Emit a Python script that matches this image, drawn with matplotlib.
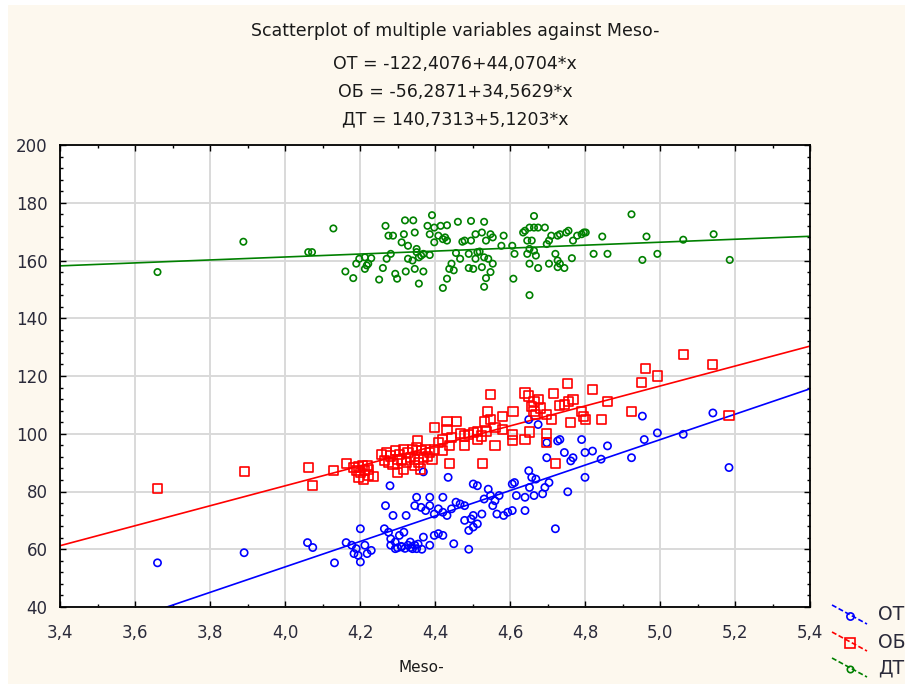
import matplotlib
matplotlib.use("Agg")
import numpy as np
import matplotlib.pyplot as plt
from matplotlib.lines import Line2D
from matplotlib.patches import Rectangle
from matplotlib.ticker import MultipleLocator, FuncFormatter

# --- data ----------------------------------------------------------------
title = "Scatterplot of multiple variables against Meso-"
x_label = "Meso-"
series_names = ["ОТ", "ОБ", "ДТ"]
intercepts = [-122.4076, -56.2871, 140.7313]
slopes = [44.0704, 34.5629, 5.1203]

ot_x = [3.660, 3.891, 4.060, 4.074, 4.132, 4.163, 4.201, 4.178, 4.190, 4.195,
        4.201, 4.213, 4.219, 4.230, 4.184, 4.268, 4.288, 4.323, 4.280, 4.351,
        4.386, 4.421, 4.346, 4.363, 4.375, 4.386, 4.398, 4.409, 4.421, 4.432,
        4.444, 4.456, 4.467, 4.479, 4.265, 4.276, 4.282, 4.294, 4.305, 4.317,
        4.328, 4.340, 4.351, 4.334, 4.346, 4.282, 4.294, 4.311, 4.369, 4.386,
        4.398, 4.409, 4.421, 4.450, 4.490, 4.490, 4.502, 4.479, 4.496, 4.502,
        4.513, 4.525, 4.369, 4.435, 4.502, 4.513, 4.542, 4.548, 4.531, 4.560,
        4.571, 4.554, 4.565, 4.583, 4.594, 4.606, 4.617, 4.606, 4.612, 4.640,
        4.640, 4.652, 4.664, 4.687, 4.693, 4.704, 4.658, 4.650, 4.669, 4.721,
        4.754, 4.800, 4.675, 4.650, 4.698, 4.698, 4.727, 4.733, 4.745, 4.762,
        4.768, 4.791, 4.800, 4.820, 4.843, 4.860, 4.924, 4.953, 4.958, 4.993,
        5.062, 5.141, 5.184, 4.300, 4.310, 4.320, 4.335, 4.355, 4.365]
ot_y = [55.3, 58.8, 62.3, 60.6, 55.3, 62.3, 67.1, 61.4, 60.2, 57.9,
        55.6, 61.4, 58.5, 59.6, 58.5, 75.1, 71.7, 71.7, 82.0, 78.0,
        78.0, 78.0, 75.1, 74.5, 73.4, 75.1, 72.2, 74.0, 72.8, 71.7,
        74.0, 76.3, 75.7, 75.1, 67.1, 65.9, 63.6, 62.5, 64.8, 65.9,
        61.4, 60.2, 60.2, 62.5, 61.4, 61.4, 60.2, 60.8, 64.2, 61.4,
        64.8, 65.4, 64.8, 61.9, 60.0, 66.5, 67.7, 70.0, 70.5, 71.7,
        68.8, 72.2, 86.8, 84.9, 82.6, 82.0, 80.8, 78.6, 77.4, 76.8,
        78.6, 75.1, 72.2, 71.7, 72.8, 73.4, 78.6, 82.6, 83.1, 78.0,
        73.4, 81.4, 78.6, 79.2, 81.4, 83.1, 84.9, 87.2, 84.3, 67.1,
        79.9, 84.9, 103.2, 104.9, 96.9, 91.7, 97.5, 98.0, 93.5, 90.6,
        91.7, 98.0, 93.5, 94.0, 91.2, 95.8, 91.7, 106.1, 98.0, 100.3,
        99.8, 107.2, 88.3, 60.5, 61.0, 60.3, 60.6, 61.8, 60.0]

ob_x = [3.660, 3.892, 4.062, 4.074, 4.129, 4.163, 4.184, 4.195, 4.207, 4.219,
        4.190, 4.201, 4.213, 4.222, 4.195, 4.210, 4.222, 4.237, 4.257, 4.271,
        4.282, 4.294, 4.305, 4.317, 4.328, 4.340, 4.351, 4.363, 4.375, 4.386,
        4.398, 4.265, 4.276, 4.288, 4.299, 4.311, 4.323, 4.334, 4.346, 4.357,
        4.369, 4.380, 4.392, 4.317, 4.299, 4.346, 4.361, 4.354, 4.398, 4.432,
        4.458, 4.432, 4.421, 4.409, 4.438, 4.444, 4.467, 4.479, 4.490, 4.502,
        4.513, 4.525, 4.536, 4.513, 4.479, 4.421, 4.438, 4.539, 4.548, 4.580,
        4.608, 4.531, 4.548, 4.560, 4.580, 4.606, 4.606, 4.640, 4.560, 4.527,
        4.652, 4.698, 4.698, 4.721, 4.640, 4.650, 4.664, 4.675, 4.658, 4.664,
        4.681, 4.669, 4.698, 4.710, 4.716, 4.733, 4.745, 4.756, 4.768, 4.754,
        4.791, 4.797, 4.802, 4.762, 4.820, 4.843, 4.860, 4.924, 4.950, 4.962,
        4.993, 5.062, 5.141, 5.184]
ob_y = [80.9, 86.9, 88.3, 82.1, 87.4, 89.7, 88.3, 88.6, 89.1, 88.9,
        87.2, 86.6, 87.2, 87.5, 85.0, 84.3, 85.5, 85.2, 92.9, 93.5,
        92.3, 94.1, 92.9, 94.6, 93.5, 94.6, 95.2, 94.1, 94.6, 93.5,
        94.6, 90.6, 90.1, 89.5, 91.2, 90.6, 90.1, 91.8, 91.0, 90.1,
        91.8, 92.1, 91.2, 87.8, 86.6, 88.9, 87.8, 97.5, 102.1, 104.3,
        104.3, 101.5, 98.1, 96.9, 96.0, 98.6, 100.1, 99.2, 99.8, 100.3,
        100.9, 99.2, 100.9, 98.1, 95.8, 94.1, 89.7, 107.8, 113.5, 106.1,
        107.8, 104.3, 104.9, 102.1, 101.5, 99.8, 97.8, 98.1, 95.8, 89.7,
        100.6, 100.1, 97.1, 89.7, 114.1, 113.1, 111.2, 111.8, 109.5, 107.8,
        108.9, 106.6, 106.6, 104.9, 113.8, 109.7, 110.1, 111.2, 111.8, 117.5,
        107.8, 106.1, 104.9, 104.0, 115.2, 104.9, 111.2, 107.8, 117.7, 122.6,
        120.0, 127.5, 124.1, 106.4]

dt_x = [3.660, 3.889, 4.062, 4.072, 4.129, 4.161, 4.182, 4.190, 4.198, 4.213,
        4.222, 4.213, 4.230, 4.218, 4.251, 4.268, 4.276, 4.288, 4.317, 4.282,
        4.271, 4.261, 4.294, 4.299, 4.320, 4.342, 4.311, 4.328, 4.346, 4.351,
        4.357, 4.328, 4.340, 4.351, 4.363, 4.369, 4.386, 4.392, 4.380, 4.398,
        4.415, 4.432, 4.386, 4.409, 4.421, 4.427, 4.432, 4.398, 4.322, 4.346,
        4.357, 4.369, 4.421, 4.432, 4.438, 4.444, 4.450, 4.467, 4.473, 4.461,
        4.496, 4.531, 4.479, 4.496, 4.508, 4.525, 4.536, 4.548, 4.554, 4.583,
        4.456, 4.490, 4.513, 4.519, 4.531, 4.542, 4.508, 4.502, 4.490, 4.525,
        4.554, 4.548, 4.536, 4.531, 4.577, 4.606, 4.612, 4.609, 4.635, 4.640,
        4.652, 4.664, 4.693, 4.675, 4.664, 4.646, 4.658, 4.652, 4.664, 4.646,
        4.669, 4.652, 4.675, 4.652, 4.698, 4.704, 4.710, 4.727, 4.733, 4.750,
        4.756, 4.768, 4.779, 4.791, 4.797, 4.802, 4.704, 4.721, 4.727, 4.733,
        4.745, 4.765, 4.727, 4.823, 4.846, 4.860, 4.924, 4.953, 4.964, 4.993,
        5.062, 5.143, 5.186]
dt_y = [156.0, 166.5, 162.9, 162.9, 171.1, 156.2, 153.9, 158.9, 160.6, 161.1,
        158.9, 157.1, 160.8, 158.3, 153.4, 172.0, 168.6, 168.6, 169.1, 162.3,
        160.6, 157.4, 155.4, 153.7, 173.9, 173.9, 166.3, 165.1, 169.7, 164.0,
        161.1, 160.6, 160.0, 162.9, 161.7, 162.3, 161.9, 175.7, 172.0, 171.4,
        172.0, 172.2, 169.1, 168.6, 167.4, 168.0, 166.9, 166.3, 156.2, 157.1,
        152.0, 156.2, 150.5, 153.7, 157.1, 158.9, 156.6, 160.6, 166.5, 173.4,
        173.7, 173.4, 166.9, 166.9, 169.1, 169.7, 166.9, 169.1, 168.0, 168.6,
        162.6, 162.3, 162.9, 163.1, 161.1, 160.6, 160.6, 157.1, 157.4, 157.7,
        158.9, 156.0, 153.9, 150.9, 165.1, 165.1, 162.3, 153.7, 169.7, 170.3,
        171.4, 171.4, 171.4, 171.4, 175.4, 166.9, 166.9, 164.0, 163.4, 162.3,
        161.7, 158.9, 157.4, 148.0, 165.7, 166.9, 168.6, 168.6, 169.1, 169.7,
        170.3, 166.9, 168.6, 169.1, 169.7, 169.7, 158.9, 162.3, 160.0, 158.9,
        157.4, 160.8, 157.7, 162.3, 168.3, 162.3, 176.0, 160.2, 168.3, 162.3,
        167.2, 169.1, 160.2]

x_range = [3.4, 5.4]
y_range = [40, 200]
colors = ["#0000ff", "#ff0000", "#008000"]
markers = ["o", "s", "o"]
msizes = [5.2, 6.6, 4.6]

# --- figure ----------------------------------------------------------------
W, H = 905, 684
fig = plt.figure(figsize=(W / 100, H / 100), dpi=100, facecolor="white")
fig.add_artist(Rectangle((8 / W, 0), 1, 1 - 5 / H, transform=fig.transFigure,
                         facecolor="#fdf8ee", edgecolor="none", zorder=-10))

ax = fig.add_axes([60 / W, 1 - 607 / H, 750 / W, 462 / H])
ax.set_facecolor("white")
ax.set_xlim(x_range)
ax.set_ylim(y_range)

ax.xaxis.set_major_locator(MultipleLocator(0.2))
ax.xaxis.set_minor_locator(MultipleLocator(0.1))
ax.yaxis.set_major_locator(MultipleLocator(20))
ax.yaxis.set_minor_locator(MultipleLocator(4))
ax.xaxis.set_major_formatter(FuncFormatter(lambda v, p: f"{v:.1f}".replace(".", ",")))
ax.grid(True, which="major", color="#d9d9d9", lw=1.4, zorder=0)
ax.tick_params(which="both", direction="in", top=True, right=True, color="black",
               labelcolor="#2a2a3a", labelsize=12)
ax.tick_params(which="major", length=4, width=1)
ax.tick_params(which="minor", length=2.5, width=1)
ax.tick_params(axis="x", pad=12)
ax.tick_params(axis="y", pad=9)
for s in ax.spines.values():
    s.set_linewidth(1.3)
    s.set_color("black")

xs = [ot_x, ob_x, dt_x]
ys = [ot_y, ob_y, dt_y]
xl = np.array(x_range)
for i in range(3):
    ax.scatter(xs[i], ys[i], s=msizes[i] ** 2, marker=markers[i], facecolors="none",
               edgecolors=colors[i], linewidths=1.2, zorder=3)
    ax.plot(xl, intercepts[i] + slopes[i] * xl, color=colors[i], lw=1.2, zorder=2)

# titles
lines = [title] + [f"{n} = {a:.4f}+{b:.4f}*x".replace(".", ",")
                   for n, a, b in zip(series_names, intercepts, slopes)]
for t, yy in zip(lines, [31, 64, 92, 119]):
    fig.text(455 / W, 1 - yy / H, t, ha="center", va="center", fontsize=12.5,
             color="#1a1a1a")
fig.text(421 / W, 1 - 668 / H, x_label, ha="center", va="center", fontsize=11,
         color="#1a1a1a")

# legend, drawn the way the program draws it (slanted keys)
leg_y = [615, 642, 668]
for i in range(3):
    y0 = leg_y[i]
    fig.add_artist(Line2D([832 / W, 867 / W], [1 - (y0 - 10) / H, 1 - (y0 + 9) / H],
                          transform=fig.transFigure, color=colors[i], lw=1.2, ls="--",
                          dashes=(3, 1.5)))
    fig.add_artist(Line2D([850 / W], [1 - (y0 + 1) / H], transform=fig.transFigure,
                          marker=markers[i], ms=msizes[i], mfc="none",
                          mec=colors[i], mew=1.2))
    fig.text(878 / W, 1 - y0 / H, series_names[i], ha="left", va="center",
             fontsize=13.5, color="#2a2a3a")

fig.savefig("out.png", dpi=100, facecolor=fig.get_facecolor())
